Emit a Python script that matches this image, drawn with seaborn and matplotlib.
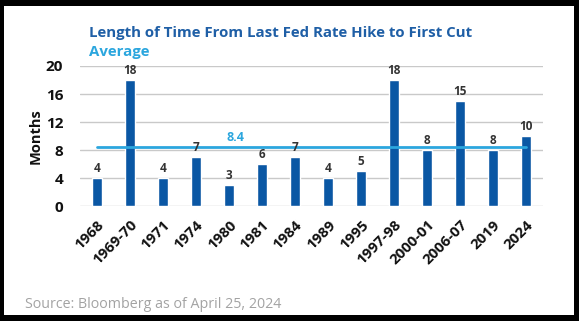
import matplotlib
matplotlib.use("Agg")
import matplotlib.pyplot as plt
from matplotlib.patches import Rectangle
import seaborn as sns
import pandas as pd

periods = ["1968", "1969-70", "1971", "1974", "1980", "1981", "1984", "1989",
           "1995", "1997-98", "2000-01", "2006-07", "2019", "2024"]
months = [4, 18, 4, 7, 3, 6, 7, 4, 5, 18, 8, 15, 8, 10]
average = 8.4
y_ticks = [0, 4, 8, 12, 16, 20]

title = "Length of Time From Last Fed Rate Hike to First Cut"
subtitle = "Average"
source = "Source: Bloomberg as of April 25, 2024"

BAR = "#0a57a4"
TITLE = "#1f5fa6"
LIGHT = "#2ba6de"

sns.set_theme(style="white")
plt.rcParams["font.family"] = ["Open Sans", "DejaVu Sans"]

fig = plt.figure(figsize=(5.79, 3.21), dpi=100, facecolor="black")
fig.patches.append(Rectangle((4 / 579, 6 / 321), 570 / 579, 309 / 321,
                             transform=fig.transFigure, facecolor="white",
                             edgecolor="none", zorder=-5))

ax = fig.add_axes([0.138, 0.3567, 0.800, 0.4377], zorder=2)
ax.set_facecolor("none")

df = pd.DataFrame({"period": periods, "months": months})
sns.barplot(data=df, x="period", y="months", color=BAR, width=0.30,
            saturation=1, ax=ax, zorder=3)

n = len(periods)
ax.set_xlim(-0.515, n - 1 + 0.515)
ax.set_ylim(0, 20)
ax.set_yticks(y_ticks)
for t in y_ticks:
    ax.axhline(t, color="#c9c9c9", lw=1.0, zorder=1)

ax.plot([0, n - 1], [average, average], color=LIGHT, lw=2.0, zorder=4)
ax.text(4.2, average + 0.5, f"{average}", color=LIGHT, fontsize=9,
        fontweight="bold", ha="center", va="bottom", zorder=5)

for i, v in enumerate(months):
    ax.text(i, v + 0.5, str(v), ha="center", va="bottom", fontsize=8.5,
            fontweight="bold", color="#333333", zorder=5)

for s in ax.spines.values():
    s.set_visible(False)
ax.tick_params(axis="both", length=0)
ax.set_xlabel("")
ax.set_ylabel("Months", fontsize=10.5, fontweight="bold", color="#111111",
              labelpad=2)
ax.set_yticklabels([str(t) for t in y_ticks], fontsize=11, fontweight="bold",
                   color="#111111")
ax.tick_params(axis="y", pad=12)
ax.set_xticks(range(n))
ax.set_xticklabels(periods, rotation=45, ha="right", rotation_mode="anchor",
                   fontsize=10.8, fontweight="bold", color="#111111")
ax.tick_params(axis="x", pad=8)

fig.text(89 / 579, 1 - 33 / 321, title, color=TITLE, fontsize=10.8,
         fontweight="bold", ha="left", va="center")
fig.text(89 / 579, 1 - 52 / 321, subtitle, color=LIGHT, fontsize=10.8,
         fontweight="bold", ha="left", va="center")
fig.text(25 / 579, 1 - 304 / 321, source, color="#a3a3a3", fontsize=10.3,
         ha="left", va="center")

fig.savefig("out.png", dpi=100, facecolor=fig.get_facecolor())
